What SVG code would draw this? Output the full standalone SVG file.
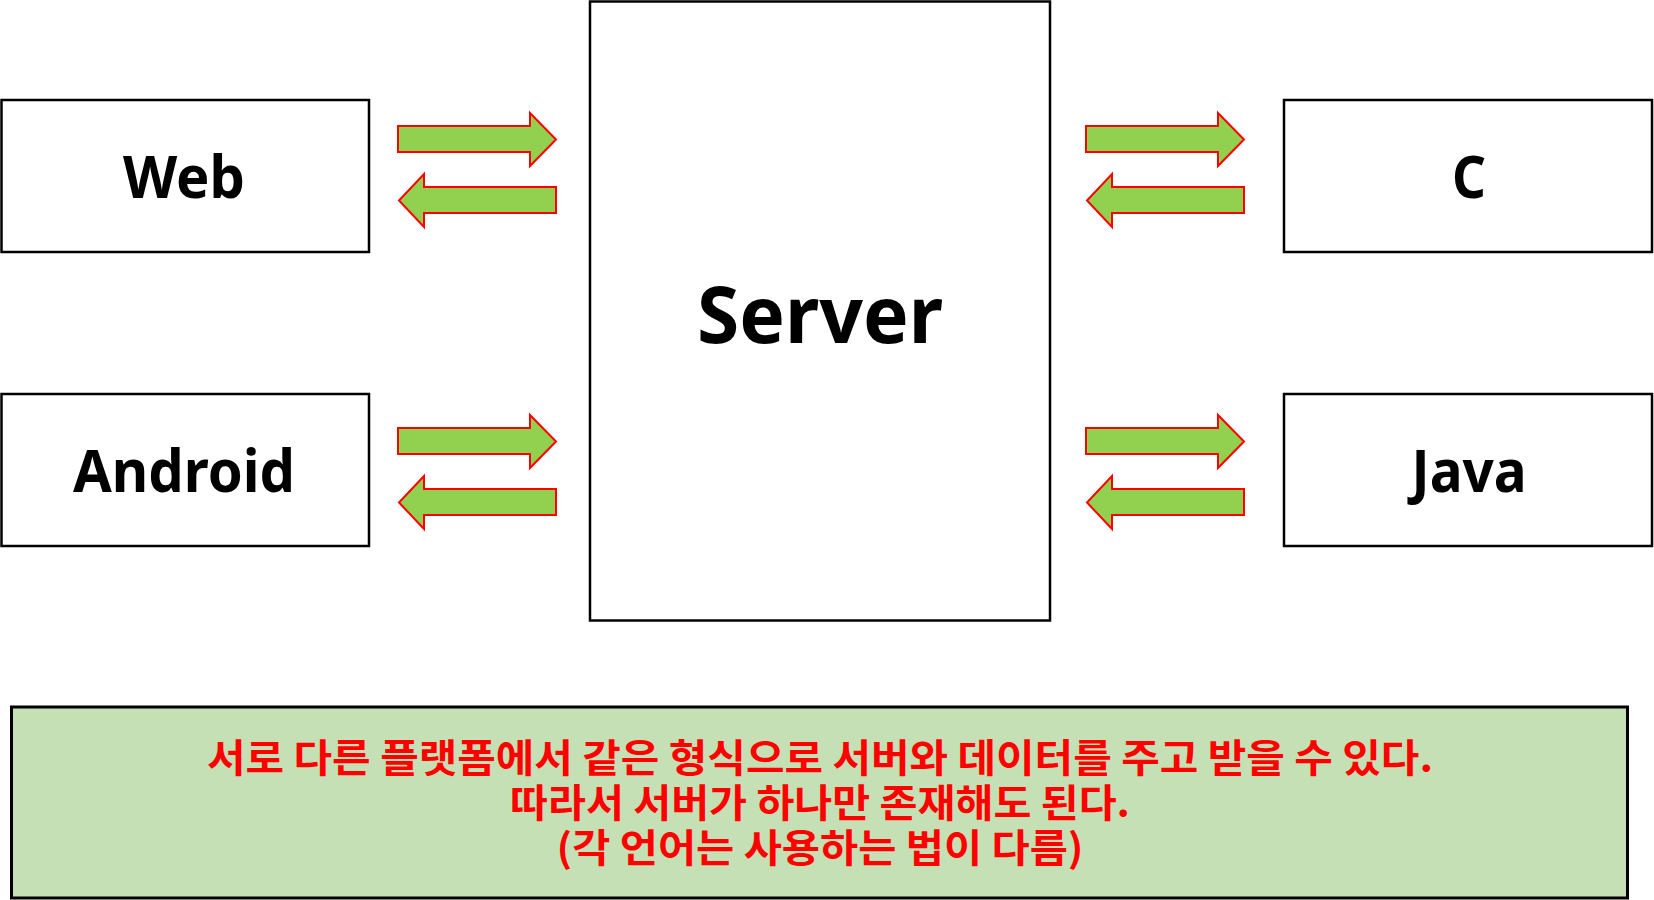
<svg xmlns="http://www.w3.org/2000/svg" width="1654" height="900" viewBox="0 0 1654 900">
<style>
.box{fill:#ffffff;stroke:#000000;stroke-width:2.5}
.lbl{font-family:"Noto Sans","Open Sans","Liberation Sans",sans-serif;font-weight:bold;fill:#000000;text-anchor:middle}
.arr{fill:#92d050;stroke:#ff0000;stroke-width:2;stroke-linejoin:miter}
.note{fill:#c5e0b4;stroke:#000000;stroke-width:3}
.kr{font-family:"Noto Sans CJK KR","Noto Sans",sans-serif;font-weight:bold;font-size:39px;fill:#ff0000;text-anchor:middle}
</style>
<rect width="1654" height="900" fill="#ffffff"/>
<g id="server">
<rect class="box" x="590" y="1.5" width="460" height="619"/>
<text class="lbl" x="820" y="343" font-size="78" textLength="246" lengthAdjust="spacingAndGlyphs">Server</text>
</g>
<g id="web">
<rect class="box" x="1.5" y="100" width="367.5" height="152"/>
<text class="lbl" x="184" y="198" font-size="60" textLength="122" lengthAdjust="spacingAndGlyphs">Web</text>
</g>
<g id="android">
<rect class="box" x="1.5" y="394" width="367.5" height="152"/>
<text class="lbl" x="184" y="492" font-size="60" textLength="222" lengthAdjust="spacingAndGlyphs">Android</text>
</g>
<g id="c">
<rect class="box" x="1284" y="100" width="368" height="152"/>
<text class="lbl" x="1469" y="198" font-size="60" textLength="34" lengthAdjust="spacingAndGlyphs">C</text>
</g>
<g id="java">
<rect class="box" x="1284" y="394" width="368" height="152"/>
<text class="lbl" x="1469" y="492" font-size="60" textLength="115" lengthAdjust="spacingAndGlyphs">Java</text>
</g>
<g id="connectors">
<polygon class="arr" points="398,126 530,126 530,113 556,139.5 530,166 530,152 398,152"/>
<polygon class="arr" points="556,187 424,187 424,174 399,200.5 424,227 424,213 556,213"/>
<polygon class="arr" points="398,428 530,428 530,415 556,441.5 530,468 530,454 398,454"/>
<polygon class="arr" points="556,489 424,489 424,476 399,502.5 424,529 424,515 556,515"/>
<polygon class="arr" points="1086,126 1218,126 1218,113 1244,139.5 1218,166 1218,152 1086,152"/>
<polygon class="arr" points="1244,187 1112,187 1112,174 1087,200.5 1112,227 1112,213 1244,213"/>
<polygon class="arr" points="1086,428 1218,428 1218,415 1244,441.5 1218,468 1218,454 1086,454"/>
<polygon class="arr" points="1244,489 1112,489 1112,476 1087,502.5 1112,529 1112,515 1244,515"/>
</g>
<g id="note">
<rect class="note" x="11.5" y="707" width="1616" height="191"/>
<text class="kr" x="820" y="772" textLength="1226" lengthAdjust="spacingAndGlyphs">서로 다른 플랫폼에서 같은 형식으로 서버와 데이터를 주고 받을 수 있다.</text>
<text class="kr" x="820" y="817" textLength="620" lengthAdjust="spacingAndGlyphs">따라서 서버가 하나만 존재해도 된다.</text>
<text class="kr" x="820" y="862" textLength="527" lengthAdjust="spacingAndGlyphs">(각 언어는 사용하는 법이 다름)</text>
</g>
</svg>
